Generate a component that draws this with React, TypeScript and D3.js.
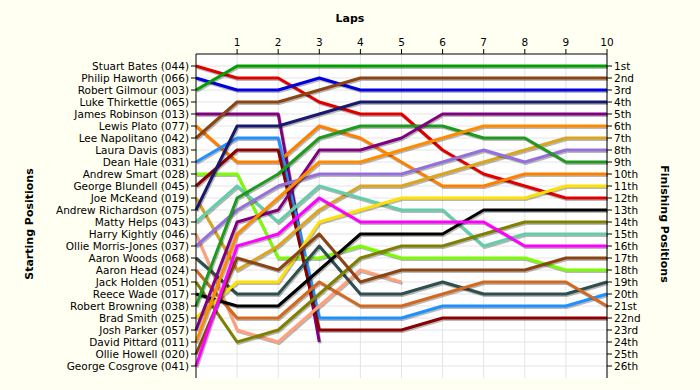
import * as d3 from "d3";

const laps = [0, 1, 2, 3, 4, 5, 6, 7, 8, 9, 10];
const lapTicks = [1, 2, 3, 4, 5, 6, 7, 8, 9, 10];

// starting grid order (label shown on the left axis)
const starters = [
  "Stuart Bates (044)", "Philip Haworth (066)", "Robert Gilmour (003)", "Luke Thirkettle (065)",
  "James Robinson (013)", "Lewis Plato (077)", "Lee Napolitano (042)", "Laura Davis (083)",
  "Dean Hale (031)", "Andrew Smart (028)", "George Blundell (045)", "Joe McKeand (019)",
  "Andrew Richardson (075)", "Matty Helps (043)", "Harry Kightly (046)", "Ollie Morris-Jones (037)",
  "Aaron Woods (068)", "Aaron Head (024)", "Jack Holden (051)", "Reece Wade (017)",
  "Robert Browning (038)", "Brad Smith (025)", "Josh Parker (057)", "David Pittard (011)",
  "Ollie Howell (020)", "George Cosgrove (041)",
];

const finishLabels = [
  "1st", "2nd", "3rd", "4th", "5th", "6th", "7th", "8th", "9th", "10th", "11th", "12th", "13th",
  "14th", "15th", "16th", "17th", "18th", "19th", "20th", "21st", "22nd", "23rd", "24th", "25th", "26th",
];

// position at each lap, per driver in starting order (empty = no laps recorded)
const racePositions: number[][] = [
  [1, 2, 2, 4, 5, 5, 8, 10, 11, 12, 12],
  [2, 3, 3, 2, 3, 3, 3, 3, 3, 3, 3],
  [3, 1, 1, 1, 1, 1, 1, 1, 1, 1, 1],
  [],
  [5, 5, 5, 24],
  [6, 9, 9, 6, 7, 9, 11, 11, 10, 10, 10],
  [7, 4, 4, 3, 2, 2, 2, 2, 2, 2, 2],
  [],
  [9, 7, 7, 22, 22, 22, 21, 21, 21, 21, 20],
  [10, 10, 17, 17, 16, 17, 17, 17, 17, 18, 18],
  [11, 8, 8, 23, 23, 23, 22, 22, 22, 22, 22],
  [12, 18, 16, 13, 11, 11, 10, 9, 8, 7, 7],
  [13, 6, 6, 5, 4, 4, 4, 4, 4, 4, 4],
  [14, 11, 14, 11, 12, 13, 13, 16, 15, 15, 15],
  [15, 23, 24, 21, 18, 19],
  [16, 13, 11, 10, 10, 10, 9, 8, 9, 8, 8],
  [17, 20, 20, 16, 20, 20, 19, 20, 20, 20, 19],
  [18, 22, 22, 19, 21, 21, 20, 19, 19, 19, 21],
  [19, 24, 23, 20, 17, 16, 16, 15, 14, 14, 14],
  [20, 21, 21, 18, 15, 15, 15, 13, 13, 13, 13],
  [21, 12, 10, 7, 6, 6, 6, 7, 7, 9, 9],
  [22, 19, 19, 14, 13, 12, 12, 12, 12, 11, 11],
  [23, 14, 13, 8, 8, 7, 5, 5, 5, 5, 5],
  [24, 15, 12, 9, 9, 8, 7, 6, 6, 6, 6],
  [25, 17, 18, 15, 19, 18, 18, 18, 18, 17, 17],
  [26, 16, 15, 12, 14, 14, 14, 14, 16, 16, 16],
];

const colors = [
  "#e00000", "#0000e0", "#00a000", "#888888", "#800080", "#ff8000", "#8b4513", "#888888",
  "#1e90ff", "#7cfc00", "#8b0000", "#daa520", "#191970", "#66cdaa", "#ffa07a", "#9370db",
  "#2f4f4f", "#d2691e", "#808000", "#000000", "#1e9a1e", "#ffe000", "#800080", "#ff8c00",
  "#8b4513", "#ff00ff",
];

const W = 700;
const H = 390;
const FONT = "'DejaVu Sans', Verdana, sans-serif";

export default function App() {
  const x = d3.scaleLinear().domain([0, 10]).range([196, 607]);
  const y = d3.scaleLinear().domain([0, 27]).range([54, 378]);
  const rows = d3.range(1, starters.length + 1);

  const line = d3
    .line<number>()
    .x((_, i) => x(laps[i]))
    .y((p) => y(p));

  return (
    <svg width={W} height={H} style={{ position: "absolute", left: 0, top: 0, fontFamily: FONT }}>
      <rect width={W} height={H} fill="#fffff2" />
      <rect x={x(0)} y={y(0)} width={x(10) - x(0)} height={y(27) - y(0)} fill="#ffffff" />

      {/* grid */}
      {lapTicks.map((l) => (
        <line key={"gv" + l} x1={x(l)} x2={x(l)} y1={y(0)} y2={y(27)} stroke="#e4e4e4" />
      ))}
      {rows.map((p) => (
        <line key={"gh" + p} x1={x(0)} x2={x(10)} y1={y(p)} y2={y(p)} stroke="#e4e4e4" />
      ))}

      {/* series: shadow + line */}
      {racePositions.map((pos, i) =>
        pos.length ? (
          <g key={"s" + i}>
            <path d={line(pos) ?? ""} fill="none" stroke="#000" strokeOpacity={0.28} strokeWidth={3}
              transform="translate(1,1.5)" strokeLinejoin="round" />
            <path d={line(pos) ?? ""} fill="none" stroke={colors[i]} strokeWidth={3} strokeLinejoin="round" />
          </g>
        ) : null
      )}

      {/* axes */}
      <line x1={x(0)} x2={x(10)} y1={y(0)} y2={y(0)} stroke="#000" />
      <line x1={x(0)} x2={x(0)} y1={y(0)} y2={y(27)} stroke="#000" />
      <line x1={x(10)} x2={x(10)} y1={y(0)} y2={y(27)} stroke="#000" />

      {lapTicks.map((l) => (
        <g key={"tx" + l}>
          <line x1={x(l)} x2={x(l)} y1={y(0)} y2={y(0) - 5} stroke="#000" />
          <text x={x(l)} y={y(0) - 8} textAnchor="middle" fontSize={10.5}>{l}</text>
        </g>
      ))}

      {rows.map((p, i) => (
        <g key={"ly" + p}>
          <line x1={x(0) - 5} x2={x(0)} y1={y(p)} y2={y(p)} stroke="#000" />
          <text x={x(0) - 7} y={y(p)} dy="0.35em" textAnchor="end" fontSize={10.5}>{starters[i]}</text>
          <line x1={x(10)} x2={x(10) + 5} y1={y(p)} y2={y(p)} stroke="#000" />
          <text x={x(10) + 7} y={y(p)} dy="0.35em" fontSize={10.5}>{finishLabels[i]}</text>
        </g>
      ))}

      <text x={350} y={22} textAnchor="middle" fontSize={11} fontWeight="bold">Laps</text>
      <text transform={`translate(33,${(y(0) + y(27)) / 2 + 8}) rotate(-90)`} textAnchor="middle"
        fontSize={11} fontWeight="bold">Starting Positions</text>
      <text transform={`translate(661,${(y(0) + y(27)) / 2 + 8}) rotate(90)`} textAnchor="middle"
        fontSize={11} fontWeight="bold">Finishing Positions</text>
    </svg>
  );
}
